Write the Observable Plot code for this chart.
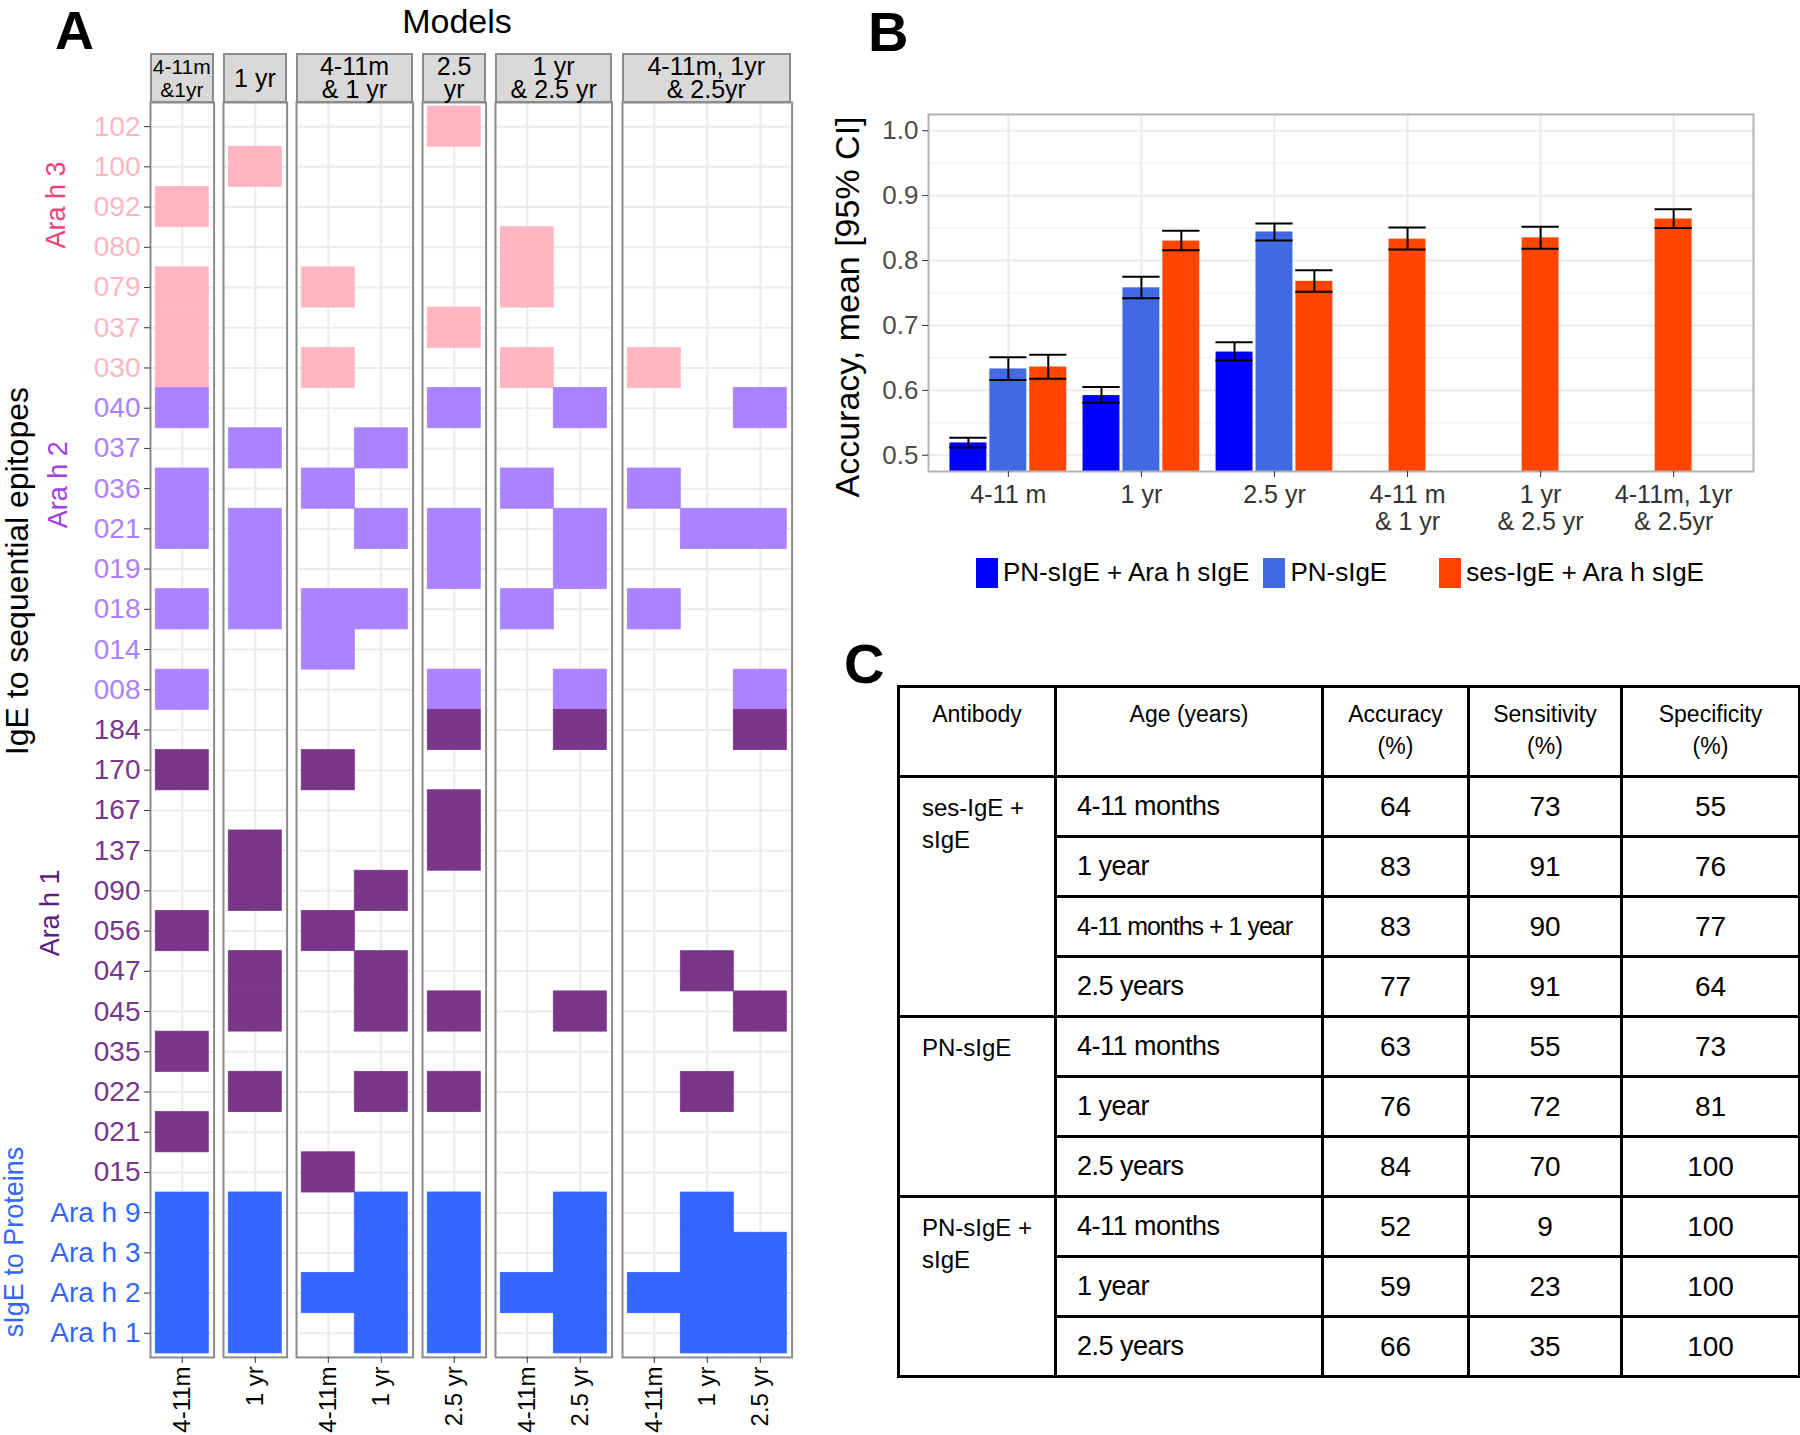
<!DOCTYPE html>
<html>
<head>
<meta charset="utf-8">
<script src="https://cdn.jsdelivr.net/npm/d3@7"></script>
<script src="https://cdn.jsdelivr.net/npm/@observablehq/plot@0.6"></script>
<style>
  html, body { margin: 0; padding: 0; background: #fff; }
  #root { position: relative; width: 1800px; height: 1435px; overflow: hidden; font-family: "Liberation Sans", Arial, sans-serif; color: #000; }
  .abs { position: absolute; }
  .letter { position: absolute; font-weight: bold; font-size: 56px; line-height: 1; }
  .title { position: absolute; font-size: 34px; line-height: 1; transform: translateX(-50%); white-space: nowrap; }
  .strip { position: absolute; box-sizing: border-box; background: #d9d9d9; border: 2px solid #8c8c8c; display: flex; align-items: center; justify-content: center; text-align: center; font-size: 25px; line-height: 23px; white-space: pre; overflow: visible; }
  .legend { position: absolute; display: flex; align-items: center; font-family: "Liberation Sans", Arial, sans-serif; font-size: 26px; white-space: nowrap; }
  .legend .key { width: 22px; height: 30px; margin-right: 5px; flex: none; }
  table.tc { position: absolute; left: 897px; top: 685px; width: 901px; border-collapse: collapse; table-layout: fixed; font-family: "Liberation Sans", Arial, sans-serif; }
  table.tc th, table.tc td { border: 3px solid #000; padding: 0; }
  table.tc tr.hd { height: 90px; }
  table.tc th { font-weight: normal; font-size: 23px; line-height: 32px; vertical-align: top; padding-top: 10px; white-space: pre-line; }
  table.tc tr.dr { height: 60px; }
  table.tc td.ab { vertical-align: top; text-align: left; padding: 14px 0 0 22px; font-size: 24px; line-height: 32px; white-space: pre-line; }
  table.tc td.age { text-align: left; padding-left: 20px; font-size: 27px; letter-spacing: -0.5px; white-space: nowrap; }
  table.tc td.age.tight { font-size: 25px; letter-spacing: -1px; }
  table.tc td.num { text-align: center; font-size: 28px; }
</style>
</head>
<body>
<div id="root"></div>
<script>
// ---------------- Panel A data ----------------
const araH3Epitopes = ["102","100","092","080","079","037","030"];
const araH2Epitopes = ["040","037","036","021","019","018","014","008"];
const araH1Epitopes = ["184","170","167","137","090","056","047","045","035","022","021","015"];
const proteinNames  = ["Ara h 9","Ara h 3","Ara h 2","Ara h 1"];
const rowGroupPrefixes = ["h3","h2","h1","p"];
const rowGroupNames  = ["Ara h 3 epitopes","Ara h 2 epitopes","Ara h 1 epitopes","sIgE to Proteins"];
const rowGroupColors = ["#ffb6c1","#ab82ff","#7a3689","#3366ff"];

const modelLabels  = ["4-11m\n&1yr","1 yr","4-11m\n& 1 yr","2.5\nyr","1 yr\n& 2.5 yr","4-11m, 1yr\n& 2.5yr"];
const modelColumns = [["4-11m"],["1 yr"],["4-11m","1 yr"],["2.5 yr"],["4-11m","2.5 yr"],["4-11m","1 yr","2.5 yr"]];

// selected features: per model, per column
const selectedFeatures = [
  [["h3:092","h3:079","h3:037","h3:030","h2:040","h2:036","h2:021","h2:018","h2:008","h1:170","h1:056","h1:035","h1:021","p:Ara h 9","p:Ara h 3","p:Ara h 2","p:Ara h 1"]],
  [["h3:100","h2:037","h2:021","h2:019","h2:018","h1:137","h1:090","h1:047","h1:045","h1:022","p:Ara h 9","p:Ara h 3","p:Ara h 2","p:Ara h 1"]],
  [["h3:079","h3:030","h2:036","h2:018","h2:014","h1:170","h1:056","h1:015","p:Ara h 2"],
   ["h2:037","h2:021","h2:018","h1:090","h1:047","h1:045","h1:022","p:Ara h 9","p:Ara h 3","p:Ara h 2","p:Ara h 1"]],
  [["h3:102","h3:037","h2:040","h2:021","h2:019","h2:008","h1:184","h1:167","h1:137","h1:045","h1:022","p:Ara h 9","p:Ara h 3","p:Ara h 2","p:Ara h 1"]],
  [["h3:080","h3:079","h3:030","h2:036","h2:018","p:Ara h 2"],
   ["h2:040","h2:021","h2:019","h2:008","h1:184","h1:045","p:Ara h 9","p:Ara h 3","p:Ara h 2","p:Ara h 1"]],
  [["h3:030","h2:036","h2:018","p:Ara h 2"],
   ["h2:021","h1:047","h1:022","p:Ara h 9","p:Ara h 3","p:Ara h 2","p:Ara h 1"],
   ["h2:040","h2:021","h2:008","h1:184","h1:045","p:Ara h 3","p:Ara h 2","p:Ara h 1"]]
];

const sideLabels = [
  {text: "Ara h 3", row: "h3:092", color: "#f0437b"},
  {text: "Ara h 2", row: "h2:036", color: "#a23fe6"},
  {text: "Ara h 1", row: "h1:090", color: "#5b1e82"},
  {text: "sIgE to Proteins", row: "p:Ara h 3", color: "#3366ff"},
  {text: "IgE to sequential epitopes", row: "h2:019", color: "#000000"}
];

// ---------------- Panel B data ----------------
const groupsB = ["4-11 m","1 yr","2.5 yr","4-11 m\n& 1 yr","1 yr\n& 2.5 yr","4-11m, 1yr\n& 2.5yr"];
const seriesB = ["PN-sIgE + Ara h sIgE","PN-sIgE","ses-IgE + Ara h sIgE"];
const seriesColorsB = ["#0000ff","#4169e1","#ff4500"];
const meanPNAra = [0.519, 0.592, 0.659, null, null, null];
const lowPNAra  = [0.512, 0.581, 0.646, null, null, null];
const highPNAra = [0.527, 0.605, 0.674, null, null, null];
const meanPN    = [0.633, 0.758, 0.844, null, null, null];
const lowPN     = [0.616, 0.742, 0.831, null, null, null];
const highPN    = [0.651, 0.775, 0.857, null, null, null];
const meanSes   = [0.636, 0.830, 0.768, 0.833, 0.835, 0.864];
const lowSes    = [0.618, 0.816, 0.752, 0.817, 0.818, 0.850];
const highSes   = [0.655, 0.846, 0.785, 0.851, 0.852, 0.879];
const yTicksB = [0.5, 0.6, 0.7, 0.8, 0.9, 1.0];
const yMinorB = [0.55, 0.65, 0.75, 0.85, 0.95];
const yDomainB = [0.475, 1.025];
const yLabelB = "Accuracy, mean [95% CI]";

// ---------------- Panel C data ----------------
const tableHeaders = ["Antibody","Age (years)","Accuracy\n(%)","Sensitivity\n(%)","Specificity\n(%)"];
const antibodies = ["ses-IgE +\nsIgE","PN-sIgE","PN-sIgE +\nsIgE"];
const ages = [
  ["4-11 months","1 year","4-11 months + 1 year","2.5 years"],
  ["4-11 months","1 year","2.5 years"],
  ["4-11 months","1 year","2.5 years"]
];
const accuracy    = [[64,83,83,77],[63,76,84],[52,59,66]];
const sensitivity = [[73,91,90,91],[55,72,70],[9,23,35]];
const specificity = [[55,76,77,64],[73,81,100],[100,100,100]];

// ================= build =================
const root = document.getElementById("root");
const FONT = "Liberation Sans, Arial, sans-serif";

function addDiv(cls, text, style) {
  const d = document.createElement("div");
  d.className = cls;
  d.textContent = text;
  Object.assign(d.style, style);
  root.appendChild(d);
  return d;
}

// panel letters and title
addDiv("letter", "A", {left: "55px", top: "3px", fontSize: "54px"});
addDiv("letter", "B", {left: "868px", top: "4px"});
addDiv("letter", "C", {left: "844px", top: "636px"});
addDiv("title", "Models", {left: "457px", top: "4px"});

// row data
const rowLists = [araH3Epitopes, araH2Epitopes, araH1Epitopes, proteinNames];
const rowData = [];
rowLists.forEach((list, gi) => list.forEach(lab => rowData.push({key: rowGroupPrefixes[gi] + ":" + lab, label: lab, group: rowGroupNames[gi]})));
const groupOfKey = Object.fromEntries(rowData.map(r => [r.key, r.group]));
const rowKeys = rowData.map(r => r.key);

// layout of panel A
const unitX = 53, gapX = 9.5, aFrameLeft = 150, aFrameTop = 102, aFrameBottom = 1357, aBottomMargin = 77;
const sideOffsets = [{dx: -94, dy: -2}, {dx: -92, dy: -4}, {dx: -100, dy: 22}, {dx: -136, dy: -11}, {dx: -133, dy: 2}];
let frameLeft = aFrameLeft;
modelColumns.forEach((cols, m) => {
  const w = (cols.length + 0.2) * unitX;
  const first = m === 0;
  const ml = first ? aFrameLeft : 1;
  const cells = [];
  cols.forEach((c, ci) => selectedFeatures[m][ci].forEach(k => cells.push({col: c, row: k, group: groupOfKey[k]})));
  const marks = [
    Plot.gridX({stroke: "#ebebeb", strokeOpacity: 1, strokeWidth: 2}),
    Plot.gridY({stroke: "#ebebeb", strokeOpacity: 1, strokeWidth: 2}),
    Plot.cell(cells, {x: "col", y: "row", fill: "group", stroke: "group", strokeWidth: 0.8}),
    Plot.frame({stroke: "#8c8c8c", strokeWidth: 2}),
    Plot.axisX({anchor: "bottom", tickRotate: -90, tickSize: 6, tickPadding: 3, fontSize: 24, stroke: "#333", fill: "#000", label: null, fontFamily: FONT})
  ];
  if (first) {
    marks.push(Plot.axisY({anchor: "left", tickSize: 6, tickFormat: () => "", stroke: "#333", label: null}));
    marks.push(Plot.text(rowData, {y: "key", text: "label", fill: "group", frameAnchor: "left", textAnchor: "end", dx: -10, fontSize: 28, fontFamily: FONT}));
    sideLabels.forEach((s, i) => {
      marks.push(Plot.text([s], {y: "row", text: "text", fill: s.color, rotate: -90, frameAnchor: "left", textAnchor: "middle",
        dx: sideOffsets[i].dx, dy: sideOffsets[i].dy, fontSize: i === 4 ? 32 : 27, fontFamily: FONT}));
    });
  }
  const height = 1 + (aFrameBottom - aFrameTop) + aBottomMargin;
  const svg = Plot.plot({
    width: ml + w + 1, height,
    marginLeft: ml, marginRight: 1, marginTop: 1, marginBottom: aBottomMargin,
    style: {fontFamily: FONT, background: "transparent", overflow: "visible"},
    x: {type: "band", domain: cols, paddingInner: 0, paddingOuter: 0.1, round: false, label: null},
    y: {type: "band", domain: rowKeys, paddingInner: 0, paddingOuter: 0.1, round: false, label: null, axis: first ? undefined : null},
    color: {domain: rowGroupNames, range: rowGroupColors},
    marks
  });
  const wrap = document.createElement("div");
  wrap.className = "abs";
  wrap.style.left = (first ? 0 : frameLeft - 1) + "px";
  wrap.style.top = (aFrameTop - 1) + "px";
  wrap.style.width = (ml + w + 1) + "px";
  wrap.appendChild(svg);
  root.appendChild(wrap);
  // strip
  addDiv("strip", modelLabels[m], {left: frameLeft + "px", top: "53px", width: w + "px", height: (aFrameTop - 53 + 1) + "px", fontSize: cols.length === 1 && modelLabels[m].length > 6 ? "21px" : "25px"});
  frameLeft += w + gapX;
});

// ---------------- Panel B ----------------
const meansB = [meanPNAra, meanPN, meanSes];
const lowsB = [lowPNAra, lowPN, lowSes];
const highsB = [highPNAra, highPN, highSes];
const dodgeStep = 0.3, barHalf = 0.15, capHalf = 0.14;
const bars = [];
groupsB.forEach((g, gi) => {
  const present = seriesB.map((s, si) => si).filter(si => meansB[si][gi] != null);
  present.forEach((si, k) => {
    const pos = gi + 1 + (k - (present.length - 1) / 2) * dodgeStep;
    bars.push({group: g, series: seriesB[si], pos, mean: meansB[si][gi], low: lowsB[si][gi], high: highsB[si][gi]});
  });
});
const groupTicksB = groupsB.map((g, i) => i + 1);
const bSvg = Plot.plot({
  width: 980, height: 451,
  marginLeft: 108, marginRight: 47, marginTop: 24, marginBottom: 70,
  style: {fontFamily: FONT, background: "transparent", overflow: "visible"},
  x: {type: "linear", domain: [0.4, groupsB.length + 0.6], label: null},
  y: {domain: yDomainB, label: null},
  color: {domain: seriesB, range: seriesColorsB},
  marks: [
    Plot.gridY(yMinorB, {stroke: "#f2f2f2", strokeOpacity: 1, strokeWidth: 1.2}),
    Plot.gridY(yTicksB, {stroke: "#ebebeb", strokeOpacity: 1, strokeWidth: 2}),
    Plot.gridX(groupTicksB, {stroke: "#ebebeb", strokeOpacity: 1, strokeWidth: 2}),
    Plot.rectY(bars, {x1: d => d.pos - barHalf, x2: d => d.pos + barHalf, y1: yDomainB[0], y2: "mean", fill: "series", insetLeft: 1.5, insetRight: 1.5}),
    Plot.ruleX(bars, {x: "pos", y1: "low", y2: "high", stroke: "#000", strokeWidth: 2}),
    Plot.ruleY(bars, {x1: d => d.pos - capHalf, x2: d => d.pos + capHalf, y: "low", stroke: "#000", strokeWidth: 2}),
    Plot.ruleY(bars, {x1: d => d.pos - capHalf, x2: d => d.pos + capHalf, y: "high", stroke: "#000", strokeWidth: 2}),
    Plot.frame({stroke: "#b3b3b3", strokeWidth: 2}),
    Plot.axisY(yTicksB, {tickFormat: d3.format(".1f"), fontSize: 26, fill: "#4d4d4d", stroke: "#333", tickSize: 6, tickPadding: 4, label: null, fontFamily: FONT}),
    Plot.axisX(groupTicksB, {tickFormat: i => groupsB[i - 1], fontSize: 25, fill: "#333", stroke: "#333", tickSize: 6, tickPadding: 6, lineHeight: 1.08, label: null, fontFamily: FONT}),
    Plot.text([yLabelB], {frameAnchor: "left", textAnchor: "middle", rotate: -90, dx: -80, dy: 14, fontSize: 34, fill: "#000", fontFamily: FONT})
  ]
});
const bWrap = document.createElement("div");
bWrap.className = "abs";
bWrap.style.left = "820px"; bWrap.style.top = "90px"; bWrap.style.width = "980px";
bWrap.appendChild(bSvg);
root.appendChild(bWrap);

// legend for B
const legend = document.createElement("div");
legend.className = "legend";
legend.style.left = "976px"; legend.style.top = "557px";
const legendGaps = [14, 52, 0];
seriesB.forEach((s, i) => {
  const key = document.createElement("div");
  key.className = "key"; key.style.background = seriesColorsB[i];
  const lab = document.createElement("span");
  lab.textContent = s; lab.style.marginRight = legendGaps[i] + "px";
  legend.appendChild(key); legend.appendChild(lab);
});
root.appendChild(legend);

// ---------------- Panel C (table) ----------------
const colWidths = [157, 267, 146, 153, 178];
let html = "<colgroup>" + colWidths.map(w => `<col style="width:${w}px">`).join("") + "</colgroup>";
html += "<tr class='hd'>" + tableHeaders.map(h => `<th>${h}</th>`).join("") + "</tr>";
antibodies.forEach((ab, gi) => {
  ages[gi].forEach((age, ri) => {
    html += "<tr class='dr'>";
    if (ri === 0) html += `<td class='ab' rowspan='${ages[gi].length}'>${ab}</td>`;
    html += `<td class='age${age.length > 15 ? " tight" : ""}'>${age}</td>`;
    html += `<td class='num'>${accuracy[gi][ri]}</td><td class='num'>${sensitivity[gi][ri]}</td><td class='num'>${specificity[gi][ri]}</td>`;
    html += "</tr>";
  });
});
const tbl = document.createElement("table");
tbl.className = "tc";
tbl.innerHTML = html;
root.appendChild(tbl);
</script>
</body>
</html>
